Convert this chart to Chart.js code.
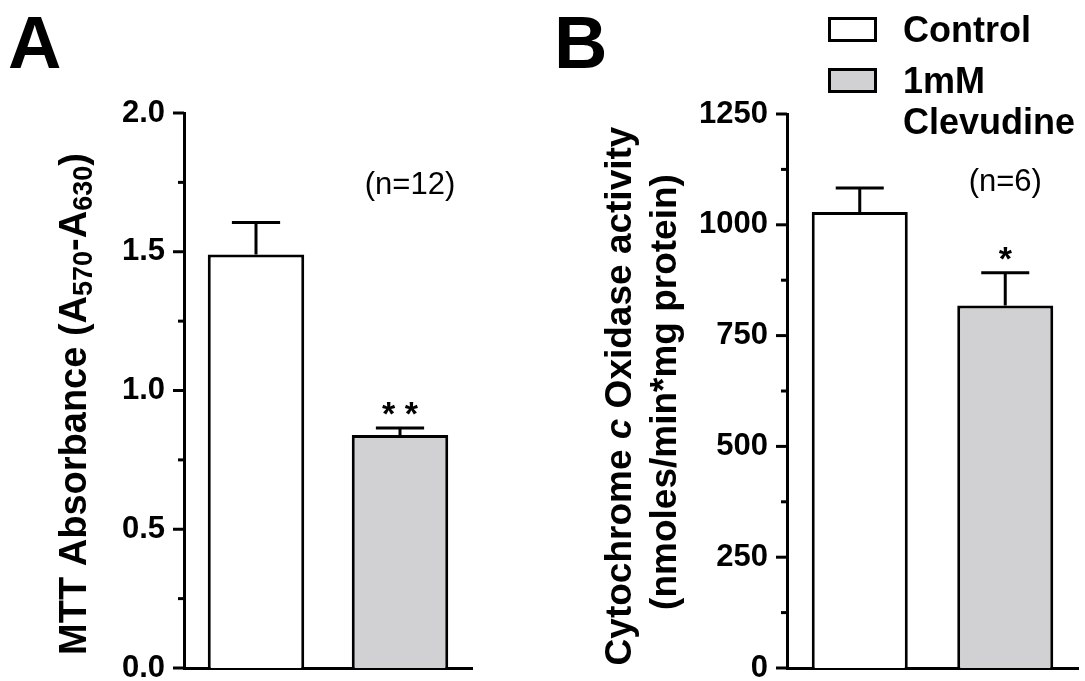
<!DOCTYPE html>
<html>
<head>
<meta charset="utf-8">
<script src="https://cdn.jsdelivr.net/npm/chart.js@4.4.1/dist/chart.umd.min.js"></script>
<style>
  body { margin: 0; background: #fff; }
  #wrap { position: relative; width: 1085px; height: 681px; overflow: hidden; font-family: 'Liberation Sans', Arial, sans-serif; }
  canvas { position: absolute; top: 0; }
  .letter { position: absolute; font-weight: bold; font-size: 74px; line-height: 1; }
  .box { position: absolute; left: 828px; width: 49px; height: 25px; box-sizing: border-box; border: 3px solid #000; }
  .leg { position: absolute; left: 903px; font-weight: bold; font-size: 36px; line-height: 41px; white-space: nowrap; }
</style>
</head>
<body>
<div id="wrap">
  <canvas id="chartA" width="540" height="681" style="left:0"></canvas>
  <canvas id="chartB" width="545" height="681" style="left:540px"></canvas>
  <div class="letter" style="left:8px;top:6px">A</div>
  <div class="letter" style="left:554px;top:6px">B</div>
  <div id="legend"></div>
</div>
<script>
'use strict';

// data
const groups = ['Control', '1mM Clevudine'];
const groupColors = ['#ffffff', '#d1d1d3'];
const mttMean = [1.49, 0.84];
const mttSem = [0.115, 0.025];
const mttStars = ['', '* *'];
const coxMean = [1029, 818];
const coxSem = [54, 74];
const coxStars = ['', '*'];
const mttTicks = ['0.0', '0.5', '1.0', '1.5', '2.0'];
const coxTicks = ['0', '250', '500', '750', '1000', '1250'];

const FAMILY = "'Liberation Sans', Arial, sans-serif";

// error bars + significance stars, from the y scale
const errorBars = {
  id: 'errorBars',
  afterDatasetsDraw(chart, args, opts){
    const {ctx} = chart;
    const y = chart.scales.y;
    const meta = chart.getDatasetMeta(0);
    const vals = chart.data.datasets[0].data;
    ctx.save();
    ctx.strokeStyle = '#000'; ctx.lineWidth = 3; ctx.fillStyle = '#000';
    meta.data.forEach((bar, i)=>{
      const top = y.getPixelForValue(vals[i] + opts.sem[i]);
      const half = bar.width / 4;
      ctx.beginPath();
      ctx.moveTo(bar.x, bar.y); ctx.lineTo(bar.x, top);
      ctx.moveTo(bar.x - half, top); ctx.lineTo(bar.x + half, top);
      ctx.stroke();
      if(opts.stars[i]){
        ctx.font = 'bold 34px ' + FAMILY;
        ctx.textAlign = 'center'; ctx.textBaseline = 'alphabetic';
        ctx.fillText(opts.stars[i], bar.x, top - 3);
      }
    });
    // n label
    const last = meta.data[meta.data.length - 1];
    ctx.font = '31px ' + FAMILY;
    ctx.textAlign = 'center'; ctx.textBaseline = 'middle';
    ctx.fillText(opts.nText, last.x + opts.nDx, chart.chartArea.top + opts.nDy);
    ctx.restore();
  }
};

// major/minor tick marks on the y axis
const yTicks = {
  id: 'yTicks',
  afterDraw(chart){
    const {ctx} = chart;
    const y = chart.scales.y;
    const left = chart.chartArea.left;
    ctx.save();
    ctx.strokeStyle = '#000'; ctx.lineWidth = 3;
    y.ticks.forEach(t=>{
      const len = t.label ? 11 : 6;
      const py = y.getPixelForValue(t.value);
      ctx.beginPath(); ctx.moveTo(left - len, py); ctx.lineTo(left, py); ctx.stroke();
    });
    ctx.restore();
  }
};

// rotated axis titles with sub/italic parts
function drawRich(ctx, parts, cx, cy, size){
  const fontFor = p => (p.italic ? 'italic ' : '') + 'bold ' + Math.round(p.sub ? size*0.72 : size) + 'px ' + FAMILY;
  let w = 0;
  parts.forEach(p=>{ ctx.font = fontFor(p); w += ctx.measureText(p.t).width; });
  ctx.save();
  ctx.translate(cx, cy); ctx.rotate(-Math.PI/2);
  ctx.fillStyle = '#000'; ctx.textBaseline = 'middle'; ctx.textAlign = 'left';
  let x = -w/2;
  parts.forEach(p=>{
    ctx.font = fontFor(p);
    ctx.fillText(p.t, x, p.sub ? size*0.22 : 0);
    x += ctx.measureText(p.t).width;
  });
  ctx.restore();
}
const axisTitle = {
  id: 'axisTitle',
  afterDraw(chart, args, opts){
    opts.lines.forEach(l=> drawRich(chart.ctx, l.parts, l.x, l.y, opts.size));
  }
};

function makeChart(id, means, sem, stars, max, step, tickLabels, fmt, lay, title, nText, nDx, nDy){
  return new Chart(document.getElementById(id), {
    type: 'bar',
    data: {
      labels: groups,
      datasets: [{
        data: means,
        backgroundColor: groupColors,
        borderColor: '#000',
        borderWidth: 3,
        barPercentage: lay.barPct,
        categoryPercentage: 1
      }]
    },
    options: {
      responsive: false,
      animation: false,
      devicePixelRatio: 1,
      layout: { padding: { left: 0, right: lay.right, top: lay.top, bottom: lay.bottom } },
      plugins: {
        legend: { display: false },
        tooltip: { enabled: false },
        errorBars: { sem, stars, nText, nDx, nDy },
        yTicks: {},
        axisTitle: title
      },
      scales: {
        x: {
          z: 1,
          afterFit: s => { s.height = 0; },
          border: { display: true, color: '#000', width: 3 },
          grid: { display: false, drawTicks: false },
          ticks: { display: false }
        },
        y: {
          z: 1,
          min: 0, max: max,
          afterFit: s => { s.width = lay.axisX; s.paddingTop = 0; s.paddingBottom = 0; },
          border: { display: true, color: '#000', width: 3 },
          grid: { display: false, drawTicks: false },
          ticks: {
            stepSize: step / 2,
            padding: 19,
            color: '#000',
            font: { size: 31, weight: 'bold', family: FAMILY },
            callback: v => { const s = fmt(v); return tickLabels.includes(s) && Math.abs(v/step - Math.round(v/step)) < 1e-9 ? s : ''; }
          }
        }
      }
    },
    plugins: [errorBars, yTicks, axisTitle]
  });
}

makeChart('chartA', mttMean, mttSem, mttStars, 2, 0.5, mttTicks, v => v.toFixed(1),
  { axisX: 184, right: 68, top: 113, bottom: 13, barPct: 0.67 },
  { size: 38, lines: [ { x: 76, y: 404, parts: [
    { t: 'MTT Absorbance (A' }, { t: '570', sub: true }, { t: '-A' }, { t: '630', sub: true }, { t: ')' } ] } ] },
  '(n=12)', 10, 72);

makeChart('chartB', coxMean, coxSem, coxStars, 1250, 250, coxTicks, v => String(Math.round(v)),
  { axisX: 247, right: 7, top: 114, bottom: 13, barPct: 0.66 },
  { size: 37, lines: [
    { x: 81, y: 396, parts: [ { t: 'Cytochrome ' }, { t: 'c', italic: true }, { t: ' Oxidase activity' } ] },
    { x: 126, y: 392, parts: [ { t: '(nmoles/min*mg protein)' } ] } ] },
  '(n=6)', 0, 68);

// legend built from the groups
const legend = document.getElementById('legend');
const legTops = [17, 68];
groups.forEach((g, i)=>{
  const b = document.createElement('div');
  b.className = 'box'; b.style.top = legTops[i] + 'px'; b.style.background = groupColors[i];
  legend.appendChild(b);
  const t = document.createElement('div');
  t.className = 'leg'; t.style.top = (legTops[i] - 8) + 'px';
  t.innerHTML = g.replace(' ', '<br>');
  legend.appendChild(t);
});
</script>
</body>
</html>
